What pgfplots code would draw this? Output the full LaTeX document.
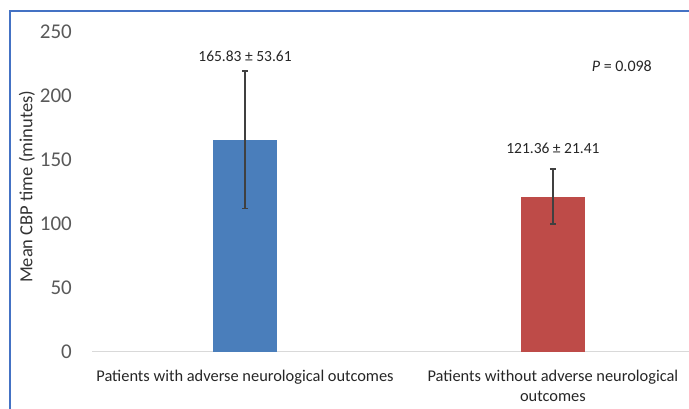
\documentclass[border=0pt]{standalone}
\usepackage{pgfplots}
\pgfplotsset{compat=1.18}
\usepackage{fontspec}
\setmainfont{Carlito}

\definecolor{barblue}{HTML}{4A7EBB}
\definecolor{barred}{HTML}{BE4B48}
\definecolor{framecol}{HTML}{4472C4}
\definecolor{tickgray}{HTML}{595959}
\definecolor{errgray}{HTML}{404040}
\definecolor{basegray}{HTML}{D9D9D9}

\begin{document}
\begin{tikzpicture}[x=1pt,y=1pt]
\path[use as bounding box] (0,0) rectangle (689,409);
% outer frame on the left and top
\draw[framecol, line width=1.2pt] (10,0) -- (10,398) -- (689,398);
\begin{axis}[
  at={(92pt,57pt)}, anchor=south west,
  scale only axis, width=597pt, height=320pt,
  xmin=-0.497, xmax=1.442, ymin=0, ymax=250,
  axis x line=bottom, axis y line=left,
  x axis line style={draw=basegray, line width=1pt, -},
  y axis line style={draw=none},
  major tick length=0pt,
  ytick={0,50,...,250},
  /pgf/number format/assume math mode=true,
  yticklabel style={font=\fontsize{21}{21}\selectfont, color=tickgray, inner sep=0pt, anchor=east, xshift=-20pt},
  xtick={0,1},
  xticklabels={Patients with adverse neurological outcomes, Patients without adverse neurological\\outcomes},
  xticklabel style={font=\fontsize{16.4}{20}\selectfont, color=black!85, align=center, inner sep=0pt, anchor=north, yshift=-18pt},
  every axis y label/.style={at={(axis description cs:-0.109,0.516)}, rotate=90, anchor=center, font=\fontsize{18.5}{22}\selectfont, color=black!80},
  ylabel={Mean CBP time (minutes)},
  ybar, bar width=64pt, bar shift=0pt,
  error bars/y dir=both, error bars/y explicit,
  error bars/error bar style={line width=1.6pt, color=errgray},
  error bars/error mark options={rotate=90, mark size=3pt, line width=1.6pt, color=errgray},
  clip=false,
]
\addplot[fill=barblue, draw=none] coordinates {(0,165.83) +- (0,53.61)};
\addplot[fill=barred, draw=none] coordinates {(1,121.36) +- (0,21.41)};
\node[anchor=base, font=\fontsize{15.5}{18}\selectfont, color=black!85] at (axis cs:0,227.3) {165.83 ± 53.61};
\node[anchor=base, font=\fontsize{15.5}{18}\selectfont, color=black!85] at (axis cs:1,154.7) {121.36 ± 21.41};
\node[anchor=base, font=\fontsize{16}{18}\selectfont, color=black!85] at (axis cs:1.224,218.75) {\textit{P} = 0.098};
\end{axis}
\end{tikzpicture}
\end{document}
